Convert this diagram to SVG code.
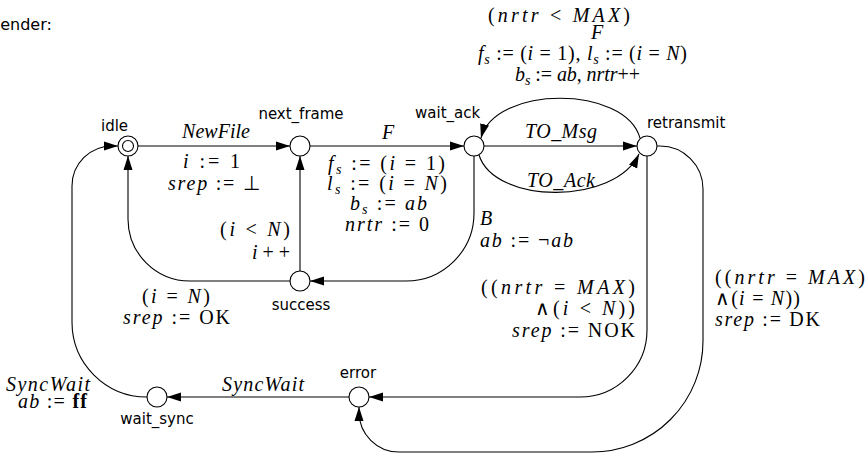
<svg xmlns="http://www.w3.org/2000/svg" width="865" height="456" viewBox="0 0 865 456">
<style>
.st{fill:#fff;stroke:#000;stroke-width:1.1}
.e{fill:none;stroke:#000;stroke-width:1.1;marker-end:url(#ah)}
.lbl{font-family:"DejaVu Sans",sans-serif;font-size:15px;fill:#000}
.m{font-family:"Liberation Serif",serif;font-size:20px;font-style:italic;fill:#000}
.u{font-style:normal}
.b{font-style:normal;font-weight:bold}
.sub{font-size:14px}
</style>
<defs>
<marker id="ah" markerUnits="userSpaceOnUse" markerWidth="15" markerHeight="10" refX="14" refY="5" orient="auto" viewBox="0 0 15 10"><path d="M0,0.5 L14,5 L0,9.5 Z" fill="#000"/></marker>
</defs>
<rect width="865" height="456" fill="#fff"/>
<text class="lbl" x="-10" y="30" style="font-size:16px">Sender:</text>

<g id="connectors">
<path class="e" d="M138,146 H290"/>
<path class="e" d="M310,146 H464"/>
<path class="e" d="M474,156 V213 A68,68 0 0 1 406,281 H310"/>
<path class="e" d="M300,271 V156"/>
<path class="e" d="M290,281 H190 A62,62 0 0 1 128,219 V156"/>
<path class="e" d="M484,146 H637"/>
<path class="e" d="M479,155 C495,205 615,205 639,154"/>
<path class="e" d="M640,138 C625,85 495,85 481,138"/>
<path class="e" d="M647,156 V330 A67,67 0 0 1 580,397 H369"/>
<path class="e" d="M657,146 H660 A43,43 0 0 1 703,189 V341 A111,111 0 0 1 592,452 H399 A40,40 0 0 1 359,412 V407"/>
<path class="e" d="M349,397 H167"/>
<path class="e" d="M147,397 A75,75 0 0 1 72,322 V186 A40,40 0 0 1 112,146 H118"/>
</g>

<g id="node-idle">
<circle class="st" cx="128" cy="146" r="10"/>
<circle class="st" cx="128" cy="146" r="5.5"/>
<text class="lbl" x="101" y="131">idle</text>
</g>
<g id="node-next_frame">
<circle class="st" cx="300" cy="146" r="10"/>
<text class="lbl" x="301" y="119" text-anchor="middle">next_frame</text>
</g>
<g id="node-wait_ack">
<circle class="st" cx="474" cy="146" r="10"/>
<text class="lbl" x="415" y="118">wait_ack</text>
</g>
<g id="node-retransmit">
<circle class="st" cx="647" cy="146" r="10"/>
<text class="lbl" x="647" y="128">retransmit</text>
</g>
<g id="node-success">
<circle class="st" cx="300" cy="281" r="10"/>
<text class="lbl" x="301" y="310" text-anchor="middle">success</text>
</g>
<g id="node-error">
<circle class="st" cx="359" cy="397" r="10"/>
<text class="lbl" x="358" y="378" text-anchor="middle">error</text>
</g>
<g id="node-wait_sync">
<circle class="st" cx="157" cy="397" r="10"/>
<text class="lbl" x="157" y="424" text-anchor="middle">wait_sync</text>
</g>

<g id="edge-labels">
<text class="m" x="488" y="22" textLength="142" lengthAdjust="spacing"><tspan class="u">(</tspan>nrtr<tspan class="u"> &lt; </tspan>MAX<tspan class="u">)</tspan></text>
<text class="m" x="591" y="39">F</text>
<text class="m" x="478" y="60" textLength="209" lengthAdjust="spacing">f<tspan class="sub" dy="4">s</tspan><tspan class="u" dy="-4"> := (</tspan>i<tspan class="u"> = 1), </tspan>l<tspan class="sub" dy="4">s</tspan><tspan class="u" dy="-4"> := (</tspan>i<tspan class="u"> = </tspan>N<tspan class="u">)</tspan></text>
<text class="m" x="515" y="81" textLength="125" lengthAdjust="spacing">b<tspan class="sub" dy="4">s</tspan><tspan class="u" dy="-4"> := </tspan>ab<tspan class="u">, </tspan>nrtr<tspan class="u">++</tspan></text>

<text class="m" x="182" y="138" textLength="68" lengthAdjust="spacing">NewFile</text>
<text class="m" x="183" y="168" textLength="57" lengthAdjust="spacing">i<tspan class="u"> := 1</tspan></text>
<text class="m" x="168" y="190" textLength="92" lengthAdjust="spacing">srep<tspan class="u"> := ⊥</tspan></text>

<text class="m" x="382" y="139">F</text>
<text class="m" x="328" y="170" textLength="117" lengthAdjust="spacing">f<tspan class="sub" dy="4">s</tspan><tspan class="u" dy="-4"> := (</tspan>i<tspan class="u"> = 1)</tspan></text>
<text class="m" x="327" y="190" textLength="120" lengthAdjust="spacing">l<tspan class="sub" dy="4">s</tspan><tspan class="u" dy="-4"> := (</tspan>i<tspan class="u"> = </tspan>N<tspan class="u">)</tspan></text>
<text class="m" x="350" y="210" textLength="77" lengthAdjust="spacing">b<tspan class="sub" dy="4">s</tspan><tspan class="u" dy="-4"> := </tspan>ab</text>
<text class="m" x="345" y="231" textLength="84" lengthAdjust="spacing">nrtr<tspan class="u"> := 0</tspan></text>

<text class="m" x="525" y="138" textLength="72" lengthAdjust="spacing">TO_Msg</text>
<text class="m" x="527" y="187" textLength="68" lengthAdjust="spacing">TO_Ack</text>

<text class="m" x="480" y="225">B</text>
<text class="m" x="480" y="247" textLength="93" lengthAdjust="spacing">ab<tspan class="u"> := ¬</tspan>ab</text>

<text class="m" x="481" y="294" textLength="154" lengthAdjust="spacing"><tspan class="u">((</tspan>nrtr<tspan class="u"> = </tspan>MAX<tspan class="u">)</tspan></text>
<text class="m" x="535" y="315" textLength="100" lengthAdjust="spacing"><tspan class="u">∧(</tspan>i<tspan class="u"> &lt; </tspan>N<tspan class="u">))</tspan></text>
<text class="m" x="512" y="337" textLength="123" lengthAdjust="spacing">srep<tspan class="u"> := NOK</tspan></text>

<text class="m" x="715" y="284" textLength="150" lengthAdjust="spacing"><tspan class="u">((</tspan>nrtr<tspan class="u"> = </tspan>MAX<tspan class="u">)</tspan></text>
<text class="m" x="715" y="305" textLength="85" lengthAdjust="spacing"><tspan class="u">∧(</tspan>i<tspan class="u"> = </tspan>N<tspan class="u">))</tspan></text>
<text class="m" x="715" y="326" textLength="105" lengthAdjust="spacing">srep<tspan class="u"> := DK</tspan></text>

<text class="m" x="220" y="236" textLength="70" lengthAdjust="spacing"><tspan class="u">(</tspan>i<tspan class="u"> &lt; </tspan>N<tspan class="u">)</tspan></text>
<text class="m" x="252" y="259" textLength="38" lengthAdjust="spacing">i<tspan class="u">++</tspan></text>

<text class="m" x="142" y="303" textLength="68" lengthAdjust="spacing"><tspan class="u">(</tspan>i<tspan class="u"> = </tspan>N<tspan class="u">)</tspan></text>
<text class="m" x="123" y="324" textLength="107" lengthAdjust="spacing">srep<tspan class="u"> := OK</tspan></text>

<text class="m" x="222" y="391" textLength="82" lengthAdjust="spacing">SyncWait</text>
<text class="m" x="6" y="391" textLength="84" lengthAdjust="spacing">SyncWait</text>
<text class="m" x="18" y="408" textLength="69" lengthAdjust="spacing">ab<tspan class="u"> := </tspan><tspan class="b">ff</tspan></text>
</g>
</svg>
